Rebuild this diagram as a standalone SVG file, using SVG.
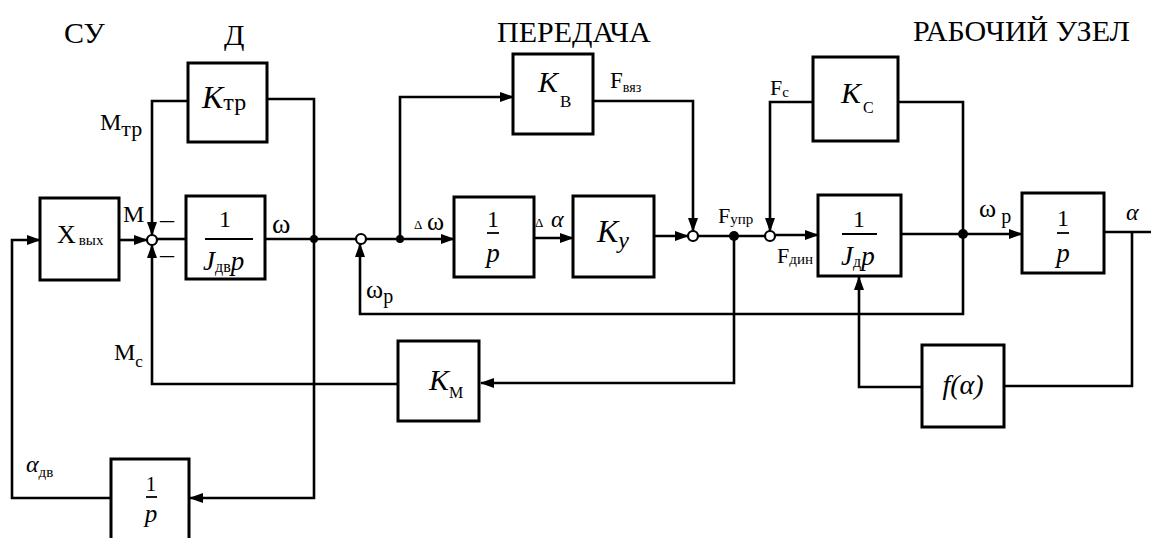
<svg xmlns="http://www.w3.org/2000/svg" width="1151" height="538" viewBox="0 0 1151 538">
<style>
.box{fill:#fff;stroke:#000;stroke-width:3}
.ln{fill:none;stroke:#000;stroke-width:2.6}
.arr{marker-end:url(#ah)}
.sum{fill:#fff;stroke:#000;stroke-width:2.2}
.dot{fill:#000}
text{font-family:"Liberation Serif","Times New Roman",serif;fill:#000}
.hd{font-size:30px}
.lb{font-size:24px}
.sb{font-size:15px}
.m{font-style:italic}
.bar{stroke:#000;stroke-width:1.8}
</style>
<defs>
<marker id="ah" markerWidth="14" markerHeight="10" refX="13" refY="5" orient="auto" markerUnits="userSpaceOnUse">
<path d="M0,0 L14,5 L0,10 z" fill="#000"/>
</marker>
</defs>

<g id="titles">
<text class="hd" x="64" y="43">СУ</text>
<text class="hd" x="224" y="45">Д</text>
<text class="hd" x="497" y="42">ПЕРЕДАЧА</text>
<text class="hd" x="913" y="41">РАБОЧИЙ УЗЕЛ</text>
</g>

<g id="connectors">
<path class="ln arr" d="M111,498 H12 V240 H40"/>
<path class="ln arr" d="M119,240 H147"/>
<path class="ln" d="M314,239 V99 H267"/>
<path class="ln arr" d="M188,101 H152 V235"/>
<path class="ln arr" d="M398,384 H152 V245"/>
<path class="ln" d="M157,239 H186"/>
<path class="ln" d="M265,239 H356"/>
<path class="ln arr" d="M366,239 H454"/>
<path class="ln arr" d="M400,239 V97 H513"/>
<path class="ln arr" d="M534,238 H573"/>
<path class="ln arr" d="M654,236 H688"/>
<path class="ln arr" d="M593,101 H693 V231"/>
<path class="ln" d="M698,236 H765"/>
<path class="ln arr" d="M734,236 V383 H481"/>
<path class="ln arr" d="M775,235 H818"/>
<path class="ln" d="M963,234 V102 H898"/>
<path class="ln arr" d="M813,102 H770 V231"/>
<path class="ln arr" d="M901,234 H1022"/>
<path class="ln arr" d="M963,234 V314 H360 V244"/>
<path class="ln" d="M1104,232 H1151"/>
<path class="ln" d="M1132,232 V386 H1004"/>
<path class="ln arr" d="M922,387 H859 V277"/>
<path class="ln arr" d="M314,239 V498 H190"/>
<circle class="sum" cx="152" cy="240" r="5"/>
<circle class="sum" cx="361" cy="239" r="5"/>
<circle class="sum" cx="693" cy="236" r="5"/>
<circle class="sum" cx="770" cy="236" r="5"/>
<circle class="dot" cx="314" cy="239" r="4"/>
<circle class="dot" cx="400" cy="239" r="4"/>
<circle class="dot" cx="734" cy="236" r="5"/>
<circle class="dot" cx="963" cy="234" r="5"/>
</g>

<g id="labels">
<text class="lb" x="100" y="130">M<tspan font-size="22" dy="6">тр</tspan></text>
<text class="lb" x="123" y="222">M</text>
<text x="160" y="228" font-size="28">–</text>
<text x="160" y="263" font-size="28">–</text>
<text x="114" y="360" font-size="24">M<tspan font-size="17" dy="7">с</tspan></text>
<text x="272" y="233" font-size="28">ω</text>
<text x="366" y="298" font-size="26">ω<tspan font-size="20" dy="5">р</tspan></text>
<text x="414" y="229" font-size="13">Δ</text>
<text x="427" y="230" font-size="26">ω</text>
<text x="535" y="227" font-size="13">Δ</text>
<text class="m" x="551" y="227" font-size="24">α</text>
<text x="610" y="88" font-size="23">F<tspan font-size="14" dy="4">вяз</tspan></text>
<text x="718" y="223" font-size="22">F<tspan font-size="15" dy="1">упр</tspan></text>
<text x="770" y="95" font-size="22">F<tspan font-size="15" dy="2">с</tspan></text>
<text x="777" y="263" font-size="22">F<tspan font-size="15" dy="1">дин</tspan></text>
<text x="979" y="217" font-size="26">ω<tspan font-size="20" dy="6"> р</tspan></text>
<text class="m" x="1126" y="220" font-size="24">α</text>
<text class="m" x="26" y="472" font-size="24">α<tspan class="sb" font-style="normal" dy="5">дв</tspan></text>
</g>

<g id="Xvyh">
<rect class="box" x="40" y="198" width="79" height="82"/>
<text x="57" y="243" font-size="26">X<tspan font-size="15" dx="3" dy="2">вых</tspan></text>
</g>

<g id="Ktr">
<rect class="box" x="188" y="63" width="79" height="79"/>
<text class="m" x="202" y="108" font-size="32">K<tspan font-style="normal" font-size="24" dy="2">тр</tspan></text>
</g>

<g id="Jdv">
<rect class="box" x="186" y="196" width="79" height="83"/>
<text x="225" y="227" font-size="24" text-anchor="middle">1</text>
<line class="bar" x1="205" y1="239" x2="253" y2="239"/>
<text class="m" x="203" y="270" font-size="27">J<tspan font-style="normal" font-size="16" dy="2">дв</tspan><tspan dy="-2">p</tspan></text>
</g>

<g id="p1">
<rect class="box" x="454" y="197" width="80" height="80"/>
<text x="493" y="227" font-size="24" text-anchor="middle">1</text>
<line class="bar" x1="487" y1="233" x2="499" y2="233"/>
<text class="m" x="493" y="262" font-size="27" text-anchor="middle">p</text>
</g>

<g id="Ky">
<rect class="box" x="573" y="196" width="81" height="81"/>
<text class="m" x="597" y="242" font-size="32">K<tspan font-size="24" dy="6">y</tspan></text>
</g>

<g id="Kv">
<rect class="box" x="513" y="54" width="80" height="80"/>
<text class="m" x="538" y="92" font-size="30">K<tspan font-style="normal" font-size="17" dx="2" dy="15">В</tspan></text>
</g>

<g id="Km">
<rect class="box" x="398" y="341" width="81" height="80"/>
<text class="m" x="429" y="390" font-size="30">K<tspan font-style="normal" font-size="16" dy="8">М</tspan></text>
</g>

<g id="Kc">
<rect class="box" x="813" y="57" width="85" height="84"/>
<text class="m" x="841" y="103" font-size="30">K<tspan font-style="normal" font-size="16" dx="2" dy="10">С</tspan></text>
</g>

<g id="Jd">
<rect class="box" x="818" y="195" width="83" height="81"/>
<text x="859" y="227" font-size="24" text-anchor="middle">1</text>
<line class="bar" x1="842" y1="234" x2="877" y2="234"/>
<text class="m" x="841" y="265" font-size="27">J<tspan font-style="normal" font-size="16" dy="2">д</tspan><tspan dy="-2">p</tspan></text>
</g>

<g id="p2">
<rect class="box" x="1022" y="193" width="82" height="80"/>
<text x="1063" y="226" font-size="24" text-anchor="middle">1</text>
<line class="bar" x1="1057" y1="233" x2="1069" y2="233"/>
<text class="m" x="1063" y="262" font-size="27" text-anchor="middle">p</text>
</g>

<g id="f">
<rect class="box" x="922" y="345" width="82" height="82"/>
<text class="m" x="963" y="394" font-size="28" text-anchor="middle">f(α)</text>
</g>

<g id="p3">
<rect class="box" x="111" y="459" width="78" height="90"/>
<text x="151" y="491" font-size="21" text-anchor="middle">1</text>
<line class="bar" x1="146" y1="497" x2="157" y2="497"/>
<text class="m" x="151" y="522" font-size="25" text-anchor="middle">p</text>
</g>
</svg>
